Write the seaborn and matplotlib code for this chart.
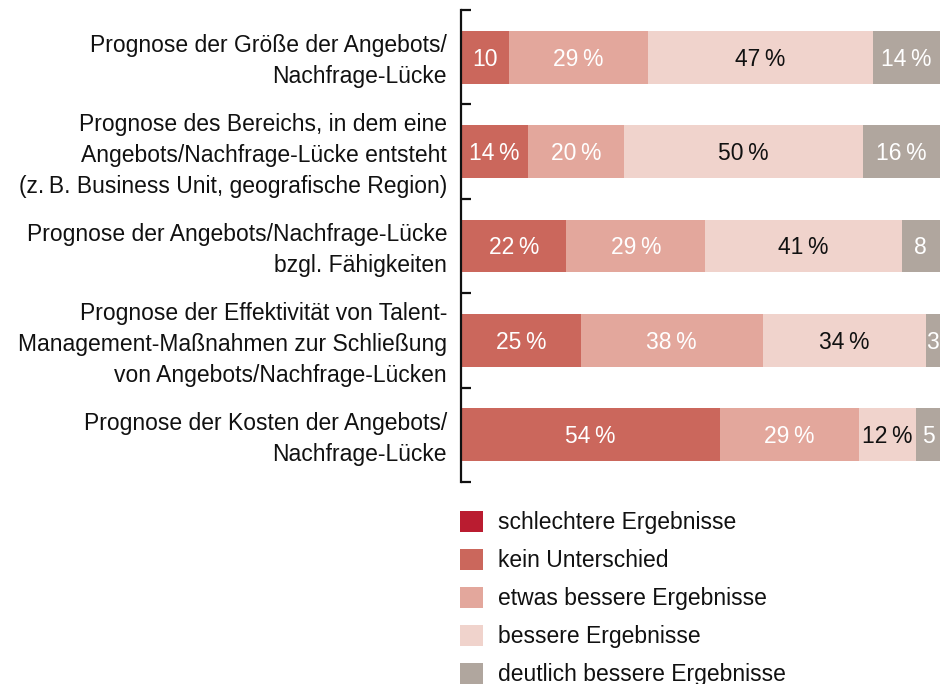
import matplotlib
matplotlib.use("Agg")
import matplotlib.pyplot as plt
import matplotlib.transforms as mtransforms
import seaborn as sns
import pandas as pd
import numpy as np
from matplotlib.patches import Patch

categories = [
    "Prognose der Größe der Angebots/\nNachfrage-Lücke",
    "Prognose des Bereichs, in dem eine\nAngebots/Nachfrage-Lücke entsteht\n(z.\u2009B. Business Unit, geografische Region)",
    "Prognose der Angebots/Nachfrage-Lücke\nbzgl. Fähigkeiten",
    "Prognose der Effektivität von Talent-\nManagement-Maßnahmen zur Schließung\nvon Angebots/Nachfrage-Lücken",
    "Prognose der Kosten der Angebots/\nNachfrage-Lücke",
]
series = ["schlechtere Ergebnisse", "kein Unterschied", "etwas bessere Ergebnisse",
          "bessere Ergebnisse", "deutlich bessere Ergebnisse"]
schlechtere = [0, 0, 0, 0, 0]
kein = [10, 14, 22, 25, 54]
etwas = [29, 20, 29, 38, 29]
bessere = [47, 50, 41, 34, 12]
deutlich = [14, 16, 8, 3, 5]

lab_kein = ["10", "14\u2009%", "22\u2009%", "25\u2009%", "54\u2009%"]
lab_etwas = ["29\u2009%", "20\u2009%", "29\u2009%", "38\u2009%", "29\u2009%"]
lab_bessere = ["47\u2009%", "50\u2009%", "41\u2009%", "34\u2009%", "12\u2009%"]
lab_deutlich = ["14\u2009%", "16\u2009%", "8", "3", "5"]

colors = ["#BA1C30", "#CB675C", "#E3A79C", "#F0D3CC", "#B0A69E"]
label_colors = [None, "white", "white", "#111111", "white"]

sns.set_theme(style="white")
plt.rcParams["font.family"] = ["Liberation Sans", "DejaVu Sans"]

fig = plt.figure(figsize=(9.5, 6.84), dpi=100)
ax = fig.add_axes([461 / 950, 1 - 482 / 684, (940 - 461) / 950, (482 - 10) / 684])

vals = [schlechtere, kein, etwas, bessere, deutlich]
labels = [None, lab_kein, lab_etwas, lab_bessere, lab_deutlich]
cum = np.cumsum(np.array(vals, dtype=float), axis=0)

df = pd.DataFrame({"cat": categories})
# draw cumulative totals from largest to smallest so segments stack
for i in range(len(series) - 1, -1, -1):
    df["v"] = cum[i]
    sns.barplot(data=df, y="cat", x="v", orient="h", color=colors[i],
                saturation=1, width=0.56, ax=ax, linewidth=0, errorbar=None)

for i in range(1, len(series)):
    start = cum[i] - np.array(vals[i])
    for j in range(len(categories)):
        if vals[i][j] <= 0:
            continue
        ax.text(start[j] + vals[i][j] / 2, j + 0.02, labels[i][j], ha="center", va="center",
                color=label_colors[i], fontsize=16.5)

ax.set_xlim(0, 100)
ax.set_ylim(4.5, -0.5)
ax.set_xlabel("")
ax.set_ylabel("")
ax.set_xticks([])
for s in ["top", "right", "bottom"]:
    ax.spines[s].set_visible(False)
ax.spines["left"].set_linewidth(1.6)
ax.spines["left"].set_color("#111111")

ax.set_yticks(range(len(categories)))
ax.set_yticklabels(categories, fontsize=16.5, linespacing=1.43, ha="right")
ax.tick_params(axis="y", which="major", left=True, length=0, pad=10, labelcolor="#111111")
ax.set_yticks(np.arange(-0.5, 5, 1), minor=True)
ax.tick_params(axis="y", which="minor", left=True, length=7, width=1.6, direction="in",
               color="#111111")
shift = mtransforms.ScaledTranslation(0, 2.5 / 100, fig.dpi_scale_trans)
for lbl in ax.get_yticklabels():
    lbl.set_transform(lbl.get_transform() + shift)

handles = [Patch(facecolor=c, edgecolor="none") for c in colors]
leg = fig.legend(handles, series, loc="upper left", bbox_to_anchor=(460 / 950, 1 - 511 / 684),
                 frameon=False, fontsize=16.5, handlelength=1.0, handleheight=1.0,
                 handletextpad=0.65, labelspacing=0.65, borderaxespad=0, borderpad=0)
for t in leg.get_texts():
    t.set_color("#111111")

fig.savefig("out.png", dpi=100)
